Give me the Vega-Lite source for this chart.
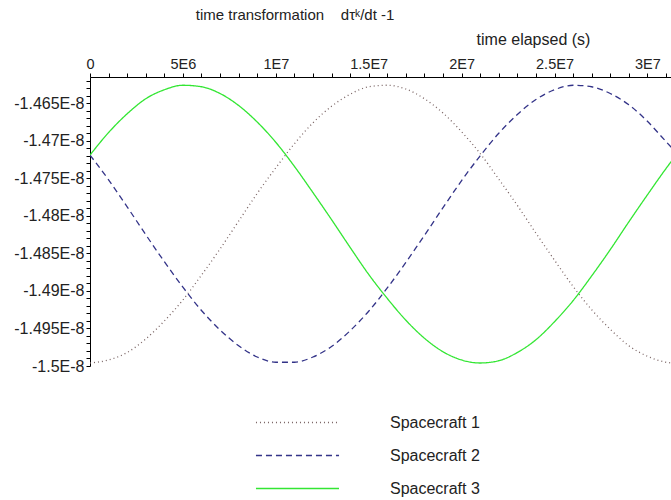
{
  "$schema": "https://vega.github.io/schema/vega-lite/v6.json",
  "width": 581,
  "height": 289,
  "autosize": "none",
  "padding": {"left": 90, "top": 77, "right": 0, "bottom": 134},
  "background": "white",
  "config": {
    "view": {"stroke": null},
    "font": "Liberation Sans"
  },
  "title": {
    "text": "time transformation\u00a0\u00a0\u00a0\u00a0dτᵏ/dt -1",
    "anchor": "start",
    "dx": 182,
    "fontSize": 15,
    "fontWeight": "normal",
    "color": "#222222",
    "offset": 8
  },
  "data": {
    "values": [
      {"t": 0, "s": "Spacecraft 1", "v": -1.4996e-8},
      {"t": 1000000, "s": "Spacecraft 1", "v": -1.4992e-8},
      {"t": 2000000, "s": "Spacecraft 1", "v": -1.4982e-8},
      {"t": 3000000, "s": "Spacecraft 1", "v": -1.4964e-8},
      {"t": 4000000, "s": "Spacecraft 1", "v": -1.4940e-8},
      {"t": 5000000, "s": "Spacecraft 1", "v": -1.4912e-8},
      {"t": 6000000, "s": "Spacecraft 1", "v": -1.4879e-8},
      {"t": 7000000, "s": "Spacecraft 1", "v": -1.4844e-8},
      {"t": 8000000, "s": "Spacecraft 1", "v": -1.4807e-8},
      {"t": 9000000, "s": "Spacecraft 1", "v": -1.4770e-8},
      {"t": 10000000, "s": "Spacecraft 1", "v": -1.4736e-8},
      {"t": 11000000, "s": "Spacecraft 1", "v": -1.4704e-8},
      {"t": 12000000, "s": "Spacecraft 1", "v": -1.4676e-8},
      {"t": 13000000, "s": "Spacecraft 1", "v": -1.4654e-8},
      {"t": 14000000, "s": "Spacecraft 1", "v": -1.4638e-8},
      {"t": 15000000, "s": "Spacecraft 1", "v": -1.4628e-8},
      {"t": 16000000, "s": "Spacecraft 1", "v": -1.4626e-8},
      {"t": 17000000, "s": "Spacecraft 1", "v": -1.4631e-8},
      {"t": 18000000, "s": "Spacecraft 1", "v": -1.4644e-8},
      {"t": 19000000, "s": "Spacecraft 1", "v": -1.4663e-8},
      {"t": 20000000, "s": "Spacecraft 1", "v": -1.4688e-8},
      {"t": 21000000, "s": "Spacecraft 1", "v": -1.4717e-8},
      {"t": 22000000, "s": "Spacecraft 1", "v": -1.4751e-8},
      {"t": 23000000, "s": "Spacecraft 1", "v": -1.4786e-8},
      {"t": 24000000, "s": "Spacecraft 1", "v": -1.4823e-8},
      {"t": 25000000, "s": "Spacecraft 1", "v": -1.4859e-8},
      {"t": 26000000, "s": "Spacecraft 1", "v": -1.4894e-8},
      {"t": 27000000, "s": "Spacecraft 1", "v": -1.4925e-8},
      {"t": 28000000, "s": "Spacecraft 1", "v": -1.4951e-8},
      {"t": 29000000, "s": "Spacecraft 1", "v": -1.4973e-8},
      {"t": 30000000, "s": "Spacecraft 1", "v": -1.4987e-8},
      {"t": 31000000, "s": "Spacecraft 1", "v": -1.4995e-8},
      {"t": 31300000, "s": "Spacecraft 1", "v": -1.4996e-8},
      {"t": 0, "s": "Spacecraft 2", "v": -1.4719e-8},
      {"t": 1000000, "s": "Spacecraft 2", "v": -1.4752e-8},
      {"t": 2000000, "s": "Spacecraft 2", "v": -1.4788e-8},
      {"t": 3000000, "s": "Spacecraft 2", "v": -1.4825e-8},
      {"t": 4000000, "s": "Spacecraft 2", "v": -1.4861e-8},
      {"t": 5000000, "s": "Spacecraft 2", "v": -1.4895e-8},
      {"t": 6000000, "s": "Spacecraft 2", "v": -1.4926e-8},
      {"t": 7000000, "s": "Spacecraft 2", "v": -1.4952e-8},
      {"t": 8000000, "s": "Spacecraft 2", "v": -1.4973e-8},
      {"t": 9000000, "s": "Spacecraft 2", "v": -1.4988e-8},
      {"t": 10000000, "s": "Spacecraft 2", "v": -1.4995e-8},
      {"t": 11000000, "s": "Spacecraft 2", "v": -1.4995e-8},
      {"t": 12000000, "s": "Spacecraft 2", "v": -1.4988e-8},
      {"t": 13000000, "s": "Spacecraft 2", "v": -1.4974e-8},
      {"t": 14000000, "s": "Spacecraft 2", "v": -1.4953e-8},
      {"t": 15000000, "s": "Spacecraft 2", "v": -1.4927e-8},
      {"t": 16000000, "s": "Spacecraft 2", "v": -1.4896e-8},
      {"t": 17000000, "s": "Spacecraft 2", "v": -1.4862e-8},
      {"t": 18000000, "s": "Spacecraft 2", "v": -1.4826e-8},
      {"t": 19000000, "s": "Spacecraft 2", "v": -1.4789e-8},
      {"t": 20000000, "s": "Spacecraft 2", "v": -1.4753e-8},
      {"t": 21000000, "s": "Spacecraft 2", "v": -1.4720e-8},
      {"t": 22000000, "s": "Spacecraft 2", "v": -1.4690e-8},
      {"t": 23000000, "s": "Spacecraft 2", "v": -1.4665e-8},
      {"t": 24000000, "s": "Spacecraft 2", "v": -1.4645e-8},
      {"t": 25000000, "s": "Spacecraft 2", "v": -1.4632e-8},
      {"t": 26000000, "s": "Spacecraft 2", "v": -1.4626e-8},
      {"t": 27000000, "s": "Spacecraft 2", "v": -1.4628e-8},
      {"t": 28000000, "s": "Spacecraft 2", "v": -1.4637e-8},
      {"t": 29000000, "s": "Spacecraft 2", "v": -1.4652e-8},
      {"t": 30000000, "s": "Spacecraft 2", "v": -1.4674e-8},
      {"t": 31000000, "s": "Spacecraft 2", "v": -1.4701e-8},
      {"t": 31300000, "s": "Spacecraft 2", "v": -1.4709e-8},
      {"t": 0, "s": "Spacecraft 3", "v": -1.4719e-8},
      {"t": 1000000, "s": "Spacecraft 3", "v": -1.4689e-8},
      {"t": 2000000, "s": "Spacecraft 3", "v": -1.4664e-8},
      {"t": 3000000, "s": "Spacecraft 3", "v": -1.4644e-8},
      {"t": 4000000, "s": "Spacecraft 3", "v": -1.4632e-8},
      {"t": 5000000, "s": "Spacecraft 3", "v": -1.4626e-8},
      {"t": 6000000, "s": "Spacecraft 3", "v": -1.4628e-8},
      {"t": 7000000, "s": "Spacecraft 3", "v": -1.4637e-8},
      {"t": 8000000, "s": "Spacecraft 3", "v": -1.4653e-8},
      {"t": 9000000, "s": "Spacecraft 3", "v": -1.4675e-8},
      {"t": 10000000, "s": "Spacecraft 3", "v": -1.4702e-8},
      {"t": 11000000, "s": "Spacecraft 3", "v": -1.4734e-8},
      {"t": 12000000, "s": "Spacecraft 3", "v": -1.4769e-8},
      {"t": 13000000, "s": "Spacecraft 3", "v": -1.4805e-8},
      {"t": 14000000, "s": "Spacecraft 3", "v": -1.4842e-8},
      {"t": 15000000, "s": "Spacecraft 3", "v": -1.4878e-8},
      {"t": 16000000, "s": "Spacecraft 3", "v": -1.4910e-8},
      {"t": 17000000, "s": "Spacecraft 3", "v": -1.4939e-8},
      {"t": 18000000, "s": "Spacecraft 3", "v": -1.4963e-8},
      {"t": 19000000, "s": "Spacecraft 3", "v": -1.4981e-8},
      {"t": 20000000, "s": "Spacecraft 3", "v": -1.4992e-8},
      {"t": 21000000, "s": "Spacecraft 3", "v": -1.4996e-8},
      {"t": 22000000, "s": "Spacecraft 3", "v": -1.4993e-8},
      {"t": 23000000, "s": "Spacecraft 3", "v": -1.4982e-8},
      {"t": 24000000, "s": "Spacecraft 3", "v": -1.4965e-8},
      {"t": 25000000, "s": "Spacecraft 3", "v": -1.4941e-8},
      {"t": 26000000, "s": "Spacecraft 3", "v": -1.4913e-8},
      {"t": 27000000, "s": "Spacecraft 3", "v": -1.4880e-8},
      {"t": 28000000, "s": "Spacecraft 3", "v": -1.4845e-8},
      {"t": 29000000, "s": "Spacecraft 3", "v": -1.4808e-8},
      {"t": 30000000, "s": "Spacecraft 3", "v": -1.4772e-8},
      {"t": 31000000, "s": "Spacecraft 3", "v": -1.4737e-8},
      {"t": 31300000, "s": "Spacecraft 3", "v": -1.4727e-8}
    ]
  },
  "mark": {"type": "line", "interpolate": "monotone", "strokeWidth": 1.3, "clip": true},
  "encoding": {
    "x": {
      "field": "t",
      "type": "quantitative",
      "scale": {"domain": [0, 31270000], "nice": false, "zero": false},
      "axis": {
        "orient": "top",
        "title": "time elapsed (s)",
        "titleFontSize": 16,
        "titleFontWeight": "normal",
        "titleColor": "#222222",
        "titleX": 443,
        "titleY": -30,
        "titleAlign": "center",
        "titleBaseline": "bottom",
        "values": [0,1000000,2000000,3000000,4000000,5000000,6000000,7000000,8000000,9000000,10000000,11000000,12000000,13000000,14000000,15000000,16000000,17000000,18000000,19000000,20000000,21000000,22000000,23000000,24000000,25000000,26000000,27000000,28000000,29000000,30000000,31000000],
        "labelExpr": "datum.value % 5000000 != 0 ? '' : (datum.value == 0 ? '0' : (datum.value < 10000000 ? (datum.value / 1000000) + 'E6' : (datum.value / 10000000) + 'E7'))",
        "labelFontSize": 14.5,
        "labelColor": "#222222",
        "labelPadding": 2,
        "labelFlush": false,
        "labelOverlap": false,
        "tickSize": 4,
        "tickColor": "black",
        "domainColor": "black",
        "grid": false
      }
    },
    "y": {
      "field": "v",
      "type": "quantitative",
      "scale": {"domain": [-1.5e-8, -1.4615e-8], "nice": false, "zero": false},
      "axis": {
        "title": null,
        "values": [-1.5e-8,-1.499e-8,-1.498e-8,-1.497e-8,-1.496e-8,-1.495e-8,-1.494e-8,-1.493e-8,-1.492e-8,-1.491e-8,-1.49e-8,-1.489e-8,-1.488e-8,-1.487e-8,-1.486e-8,-1.485e-8,-1.484e-8,-1.483e-8,-1.482e-8,-1.481e-8,-1.48e-8,-1.479e-8,-1.478e-8,-1.477e-8,-1.476e-8,-1.475e-8,-1.474e-8,-1.473e-8,-1.472e-8,-1.471e-8,-1.47e-8,-1.469e-8,-1.468e-8,-1.467e-8,-1.466e-8,-1.465e-8,-1.464e-8,-1.463e-8,-1.462e-8],
        "labelExpr": "round(datum.value * 1e11) % 5 != 0 ? '' : (round(datum.value * 1e11) / 1000) + 'E-8'",
        "labelFontSize": 16,
        "labelColor": "#222222",
        "labelPadding": 2,
        "labelFlush": false,
        "labelOverlap": false,
        "tickSize": 4,
        "tickColor": "black",
        "domainColor": "black",
        "grid": false
      }
    },
    "color": {
      "field": "s",
      "type": "nominal",
      "scale": {"domain": ["Spacecraft 1", "Spacecraft 2", "Spacecraft 3"], "range": ["#7a6464", "#333388", "#33e633"]},
      "legend": {
        "orient": "none",
        "legendX": 198,
        "legendY": 336,
        "title": null,
        "symbolType": "M-5,0H5",
        "symbolSize": 276,
        "symbolStrokeWidth": 1.5,
        "labelFontSize": 16,
        "labelColor": "#222222",
        "labelOffset": 83,
        "rowPadding": 15,
        "padding": 0
      }
    },
    "strokeDash": {
      "field": "s",
      "type": "nominal",
      "scale": {"domain": ["Spacecraft 1", "Spacecraft 2", "Spacecraft 3"], "range": [[1, 3], [6, 4], [1, 0]]},
      "legend": null
    }
  }
}
